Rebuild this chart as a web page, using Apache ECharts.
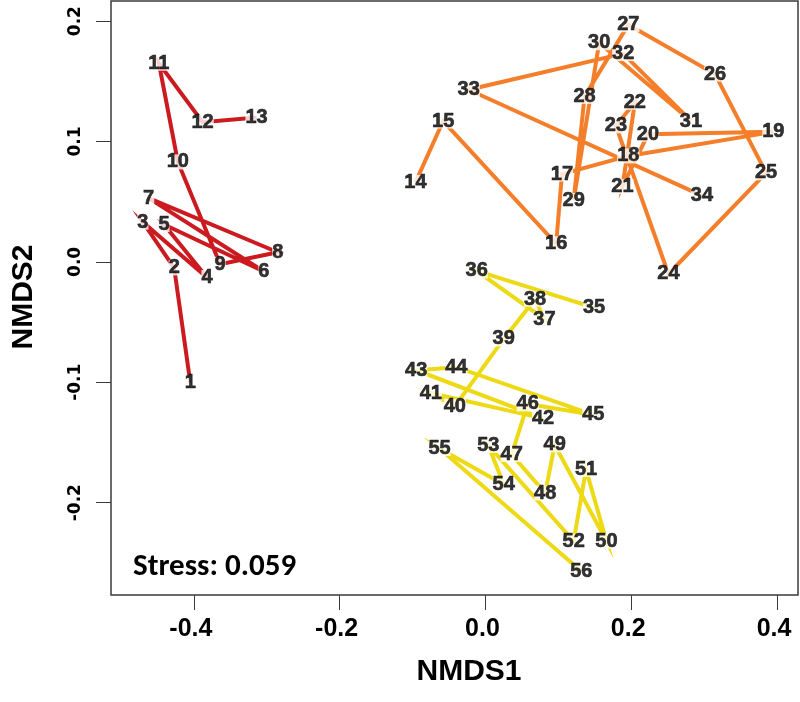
<!DOCTYPE html>
<html>
<head>
<meta charset="utf-8">
<script src="https://cdn.jsdelivr.net/npm/echarts@6/dist/echarts.min.js"></script>
<style>html,body{margin:0;padding:0;background:#fff}#c{width:800px;height:702px}</style>
</head>
<body>
<div id="c"></div>
<script>
// Site ids (connected in this order)
const redIds = [1,2,3,4,5,6,7,8,9,10,11,12,13];
const redX = [-0.405,-0.427,-0.470,-0.382,-0.441,-0.304,-0.462,-0.285,-0.364,-0.422,-0.448,-0.388,-0.314];
const redY = [-0.100,-0.005,0.033,-0.013,0.031,-0.008,0.053,0.008,-0.002,0.083,0.165,0.116,0.120];

const orangeIds = [14,15,16,17,18,19,20,21,22,23,24,25,26,27,28,29,30,31,32,33,34];
const orangeX = [-0.096,-0.058,0.097,0.105,0.196,0.395,0.223,0.188,0.205,0.179,0.251,0.385,0.315,0.196,0.136,0.121,0.156,0.282,0.189,-0.023,0.297];
const orangeY = [0.066,0.117,0.015,0.073,0.088,0.108,0.106,0.0625,0.1325,0.113,-0.010,0.074,0.156,0.197,0.1375,0.051,0.182,0.117,0.173,0.143,0.055];

const yellowIds = [35,36,37,38,39,40,41,42,43,44,45,46,47,48,49,50,51,52,53,54,55,56];
const yellowX = [0.149,-0.012,0.081,0.068,0.025,-0.042,-0.075,0.079,-0.095,-0.040,0.148,0.058,0.036,0.082,0.095,0.166,0.138,0.121,0.004,0.025,-0.063,0.1315];
const yellowY = [-0.038,-0.0075,-0.0475,-0.031,-0.064,-0.120,-0.109,-0.130,-0.090,-0.0875,-0.127,-0.118,-0.160,-0.192,-0.152,-0.232,-0.1725,-0.232,-0.1525,-0.185,-0.155,-0.257];

const xTicks = [-0.4,-0.2,0.0,0.2,0.4];
const yTicks = [-0.2,-0.1,0.0,0.1,0.2];
const stressText = 'Stress: 0.059';

const groups = [
  {ids: redIds, x: redX, y: redY, color: '#CB1B20'},
  {ids: orangeIds, x: orangeX, y: orangeY, color: '#F47E2A'},
  {ids: yellowIds, x: yellowX, y: yellowY, color: '#EDD914'}
];

const series = [];
groups.forEach(g => {
  const pts = g.ids.map((id, i) => ({name: String(id), value: [g.x[i], g.y[i]]}));
  series.push({
    type: 'line', data: pts, symbol: 'none', smooth: false, z: 2,
    lineStyle: {color: g.color, width: 4, join: 'miter', miterLimit: 10, cap: 'butt'},
    silent: true, animation: false
  });
});
groups.forEach(g => {
  const pts = g.ids.map((id, i) => ({name: String(id), value: [g.x[i], g.y[i]]}));
  series.push({
    type: 'scatter', data: pts, symbolSize: 0, z: 5, animation: false, silent: true,
    label: {
      show: true, position: 'inside', formatter: p => p.name,
      fontFamily: 'Liberation Sans, Arial, sans-serif', fontWeight: 'bold', fontSize: 20,
      color: '#000', textBorderColor: '#000', textBorderWidth: 0.6,
      backgroundColor: '#fff', padding: [0, 0], lineHeight: 15
    }
  });
});

const chart = echarts.init(document.getElementById('c'), null, {renderer: 'canvas'});
chart.setOption({
  animation: false,
  backgroundColor: '#fff',
  grid: {left: 111, right: 2, top: 1, bottom: 107, show: true, borderColor: '#3a3a3a', borderWidth: 1.5, backgroundColor: 'transparent'},
  xAxis: {
    type: 'value', min: -0.5137, max: 0.4288,
    splitLine: {show: false},
    axisLine: {show: false, onZero: false},
    axisTick: {show: true, length: 15, customValues: xTicks, lineStyle: {color: '#3a3a3a', width: 1}},
    axisLabel: {customValues: xTicks, formatter: v => v.toFixed(1), margin: 22, padding: [0, 6, 0, 0],
      fontFamily: 'Liberation Sans, Arial, sans-serif', fontWeight: 'bold', fontSize: 25, color: '#000'}
  },
  yAxis: {
    type: 'value', min: -0.2767, max: 0.2167,
    splitLine: {show: false},
    axisLine: {show: false, onZero: false},
    axisTick: {show: true, length: 15, customValues: yTicks, lineStyle: {color: '#3a3a3a', width: 1}},
    axisLabel: {customValues: yTicks, formatter: v => v.toFixed(1), rotate: 90, margin: 27,
      fontFamily: 'DejaVu Sans, sans-serif', fontWeight: 'bold', fontSize: 17, color: '#000'}
  },
  graphic: [
    {type: 'text', left: 133, top: 552, style: {text: stressText, fontFamily: 'Carlito, Lato, sans-serif', fontWeight: 'bold', fontSize: 31, fill: '#000'}},
    {type: 'text', x: 469, y: 672, style: {text: 'NMDS1', align: 'center', verticalAlign: 'middle', fontFamily: 'Liberation Sans, Arial, sans-serif', fontWeight: 'bold', fontSize: 30, fill: '#000'}},
    {type: 'text', x: 24, y: 297, rotation: Math.PI / 2, style: {text: 'NMDS2', align: 'center', verticalAlign: 'middle', fontFamily: 'Liberation Sans, Arial, sans-serif', fontWeight: 'bold', fontSize: 30, fill: '#000'}}
  ],
  series: series
});
</script>
</body>
</html>
